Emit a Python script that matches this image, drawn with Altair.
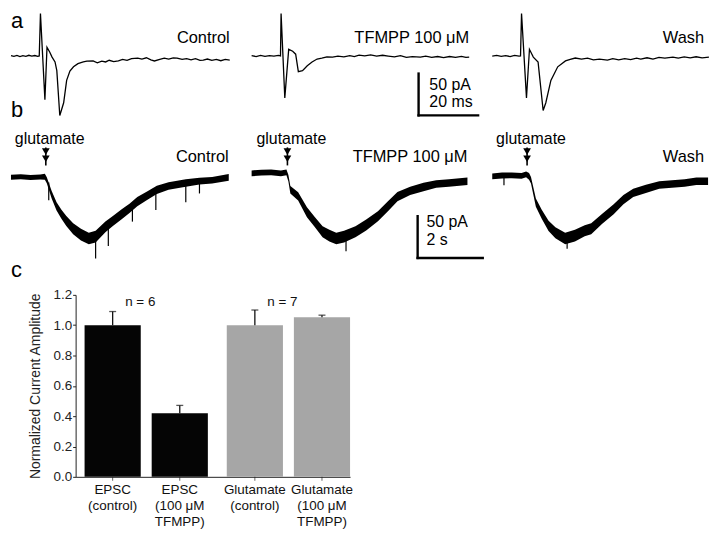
import altair as alt
import pandas as pd

FONT = "Liberation Sans"

# ---------------- Panel a: evoked EPSC traces (time ms, current pA) ----------------
a_ctrl_t = [0, 1, 2, 3, 4, 5, 6, 7, 8, 9, 9.5, 9.9, 11.4, 12.1, 13.0, 13.8, 14.8, 15.4, 16.4, 17.7,
            18.7, 19.8, 21.0, 22.5, 24.3, 25.5, 27.6, 29.0, 30.5, 31.8, 33.0, 34.5, 36.1, 37.5, 39.0,
            40.5, 42.6, 44.0, 45.5, 47.0, 48.2, 50.0, 51.5, 53.0, 54.5, 55.8, 57.5, 59.0, 60.5, 62.0,
            63.5, 64.6, 66.0, 67.5, 69.0, 70.5, 72.0, 73.5]
a_ctrl_i = [0.5, -0.3, 0.8, -0.5, 0.6, -0.2, 1.0, 0.0, 0.7, -0.3, 0.2, 51, -52.3, 10.5, 5, -1.2, -7,
            -17.4, -71, -55.8, -29, -18, -12.8, -9, -7, -6, -5.8, -8, -6, -7, -5, -6.5, -5.8, -4, -5,
            -3, -2.3, -3.5, -2, -4.5, -5.8, -4, -2.5, -3.5, -2, -2.3, -4, -3, -4.5, -3, -5, -4.7,
            -3.5, -5, -4, -5.5, -4, -4.7]

a_tfm_t = [0, 1.5, 3, 4.5, 6, 7.5, 9, 9.7, 9.9, 11.15, 12.46, 13.8, 14.8, 15.7, 17.1, 18.7, 20.3, 22,
           23.6, 25.3, 27.2, 29, 31, 33, 34.5, 36.1, 38, 40, 42, 44, 45.9, 48, 50, 52, 54, 56.7, 58.5,
           60.5, 62.5, 64.5, 66.5, 68.5, 70.5, 72, 73.1]
a_tfm_i = [0.5, -0.5, 0.8, -0.3, 0.6, 0, 0.8, 0.2, 51, -50, 8.1, 5.8, 2.3, -18.6, -17.4, -11.6, -7,
           -3.5, -2.5, -1, -1.2, 0, -1, 0.5, -0.5, 1.2, 0.3, 1.5, 0, 1, 0, -1, 0.5, -1.5, -0.5, -1.2,
           0, -1.5, -0.5, -1.8, -0.5, -1.5, -0.3, -1.5, -1.2]

a_wash_t = [0, 1.5, 3, 4.5, 6, 7.5, 9, 9.5, 9.84, 11.5, 12.5, 13.8, 15.4, 15.7, 17.1, 18, 19.7, 22,
            24.6, 26.2, 27.9, 30, 32, 34, 36, 38.7, 40.5, 42.5, 44.5, 46.5, 48.5, 49.9, 52, 54, 56,
            58, 60.7, 62.5, 64.5, 66.5, 68.5, 70.5, 72.8]
a_wash_i = [0, 0.8, -0.3, 0.6, -0.5, 0.8, 0, 0.3, 51, -50, 8.1, -1.2, -7, -17.4, -65, -55.8, -29,
            -12.8, -5.8, -4, -2.3, -3.5, -2.5, -4.5, -3.5, -4.7, -3, -4.5, -3, -4.2, -2.5, -3.5, -2,
            -3.5, -1.5, -2.5, -1.2, -2.5, -1, -2, -0.8, -2, -1.2]

# ---------------- Panel b: glutamate-evoked currents (time s, current pA) ----------------
b_ctrl_t = [0.00, 0.30, 0.60, 0.90, 1.04, 1.10, 1.25, 1.40, 1.55, 1.70, 1.91, 2.15, 2.39, 2.60, 2.90,
            3.13, 3.40, 3.64, 3.88, 4.18, 4.48, 4.84, 5.37, 5.79, 6.18, 6.69]
b_ctrl_c = [-1.2, -0.5, -1.5, -0.8, -0.5, -4.7, -22, -36, -45.4, -53.5, -62.8, -69.8, -74.4, -72.1,
            -60.5, -53.5, -45.4, -38.4, -30.2, -23.3, -16.3, -11.6, -8.1, -5.8, -4.7, -1.2]
b_ctrl_hw = [3, 3, 3, 3, 3.5, 3.5, 4.5, 5, 5.5, 6, 6.5, 7, 7, 7, 6.5, 6, 6, 5.5, 5.5, 5, 5, 4.5, 4.5,
             4, 4, 4]

b_tfm_t = [0.00, 0.30, 0.60, 0.90, 1.07, 1.13, 1.19, 1.43, 1.70, 1.94, 2.18, 2.39, 2.60, 2.84, 3.19,
           3.52, 3.88, 4.18, 4.48, 4.87, 5.28, 5.67, 6.06, 6.63]
b_tfm_c = [3.5, 4.5, 4.7, 3.5, 4.7, -2.3, -16, -24, -43, -54.7, -66.3, -70.9, -74.4, -72.1, -66.3,
           -58.2, -47.7, -36, -24.4, -17.4, -12.8, -9.3, -8.1, -5.8]
b_tfm_hw = [3.5, 3.5, 3.5, 3.5, 3.5, 4, 4.5, 5, 6, 6, 6.5, 7, 7, 7, 6.5, 6.5, 6, 6, 5.5, 5, 5, 4.5,
            4.5, 4.5]

b_wash_t = [0.00, 0.30, 0.60, 0.90, 1.04, 1.13, 1.19, 1.34, 1.52, 1.73, 1.94, 2.24, 2.54, 2.84, 3.04,
            3.37, 3.73, 4.03, 4.33, 4.72, 5.13, 5.52, 5.91, 6.27, 6.63]
b_wash_c = [0, 1, 1.2, 0.5, 2.3, 0, -4.7, -31.4, -45.4, -59.3, -67.5, -74.4, -70.9, -65.1, -62.8,
            -51.2, -39.5, -27.9, -19.8, -15.1, -10.5, -9.3, -8.1, -5.8, -5.8]
b_wash_hw = [3.5, 3.5, 3.5, 3.5, 3.5, 4, 4, 5, 5.5, 6, 6.5, 7, 7, 6.5, 6.5, 6, 6, 5.5, 5, 5, 4.5,
             4.5, 4.5, 4.5, 4.5]

# brief downward noise spikes (time s, start pA, tip pA)
sp_ctrl_t = [1.16, 2.60, 2.99, 3.73, 4.45, 5.37, 5.79]
sp_ctrl_from = [-8, -72, -60, -36, -17, -8, -6]
sp_ctrl_to = [-27.9, -97.7, -82.6, -53.5, -39.5, -30.2, -19.8]
sp_tfm_t = [2.9]
sp_tfm_from = [-70]
sp_tfm_to = [-89]
sp_wash_t = [0.36, 2.3]
sp_wash_from = [1, -73]
sp_wash_to = [-10, -86]

glu_time = [1.07, 1.10, 1.07]   # glutamate application time in each record (s)

# ---------------- Panel c: bar chart ----------------
bar_labels = ["EPSC\n(control)", "EPSC\n(100 \u03bcM\nTFMPP)", "Glutamate\n(control)",
              "Glutamate\n(100 \u03bcM\nTFMPP)"]
bar_group = ["EPSC", "EPSC", "Glutamate", "Glutamate"]
bar_cond = ["control", "TFMPP", "control", "TFMPP"]
bar_value = [1.0, 0.42, 1.0, 1.052]
bar_err_top = [1.09, 0.471, 1.10, 1.066]
n_group = ["EPSC", "Glutamate"]
n_text = ["n = 6", "n = 7"]
y_ticks = [0, 0.2, 0.4, 0.6, 0.8, 1.0, 1.2]

# ================= helpers =================
A_W, A_H = 220, 113
B_W, B_H = 220, 155
A_XDOM, A_YDOM = [0, 73.5], [-81.0, 53.4]
B_XDOM, B_YDOM = [0, 6.72], [-127.6, 56.9]


def XA(f):
    return alt.X(f, type="quantitative", scale=alt.Scale(domain=A_XDOM, nice=False, zero=False), axis=None)


def YA(f):
    return alt.Y(f, type="quantitative", scale=alt.Scale(domain=A_YDOM, nice=False, zero=False), axis=None)


def XB(f):
    return alt.X(f, type="quantitative", scale=alt.Scale(domain=B_XDOM, nice=False, zero=False), axis=None)


def YB(f):
    return alt.Y(f, type="quantitative", scale=alt.Scale(domain=B_YDOM, nice=False, zero=False), axis=None)


def texts(X, Y, ts, ys, ss, align="left", baseline="middle", size=16.5):
    df = pd.DataFrame({"t": ts, "i": ys, "s": ss})
    return alt.Chart(df).mark_text(align=align, baseline=baseline, fontSize=size, font=FONT,
                                   color="black").encode(x=X("t"), y=Y("i"), text="s:N")


def segs(X, Y, x1, x2, y1, y2, w=2.4):
    df = pd.DataFrame({"t": x1, "t2": x2, "i": y1, "i2": y2})
    return alt.Chart(df).mark_rule(color="black", strokeWidth=w, strokeCap="square").encode(
        x=X("t"), x2="t2:Q", y=Y("i"), y2="i2:Q")


def panel_a(t, i, label, label_t, extra):
    df = pd.DataFrame({"t": t, "i": i})
    line = alt.Chart(df).mark_line(color="black", strokeWidth=1.3, clip=False).encode(x=XA("t"), y=YA("i"))
    lab = texts(XA, YA, [label_t], [22.1], [label], align="right")
    return alt.layer(line, lab, *extra).properties(width=A_W, height=A_H)


def panel_b(t, c, hw, spt, spf, spto, tg, label, label_t, extra):
    df = pd.DataFrame({"t": t, "c": c, "hw": hw})
    df["lo"] = df["c"] - df["hw"]
    df["hi"] = df["c"] + df["hw"]
    band = alt.Chart(df).mark_area(color="black", clip=False, interpolate="linear").encode(
        x=XB("t"), y=YB("lo"), y2="hi:Q")
    spk = segs(XB, YB, spt, spt, spf, spto, w=1.2)
    stem = segs(XB, YB, [tg], [tg], [33.7], [14.0], w=1.6)
    tri = alt.Chart(pd.DataFrame({"t": [tg, tg], "i": [29.5, 21.0]})).mark_point(
        shape="triangle-down", filled=True, size=60, color="black", opacity=1).encode(x=XB("t"), y=YB("i"))
    glu = texts(XB, YB, [tg + 0.12], [44.2], ["glutamate"], align="center", size=16)
    lab = texts(XB, YB, [label_t], [23.5], [label], align="right")
    return alt.layer(band, spk, stem, tri, glu, lab, *extra).properties(width=B_W, height=B_H)


# ---------------- row a ----------------
a1 = panel_a(a_ctrl_t, a_ctrl_i, "Control", 73.5,
             [texts(XA, YA, [0, 0], [33.2, -72.7], ["a", "b"], baseline="alphabetic", size=22)])
a2 = panel_a(a_tfm_t, a_tfm_i, "TFMPP 100 \u03bcM", 73.1,
             [segs(XA, YA, [56.1, 56.1], [56.1, 76.1], [-20.9, -70.9], [-70.9, -70.9]),
              texts(XA, YA, [59.7, 59.7], [-34.5, -55.5], ["50 pA", "20 ms"], size=16)])
a3 = panel_a(a_wash_t, a_wash_i, "Wash", 71.2, [])
row_a = alt.hconcat(a1, a2, a3, spacing=22, bounds="flush")

# ---------------- row b ----------------
b1 = panel_b(b_ctrl_t, b_ctrl_c, b_ctrl_hw, sp_ctrl_t, sp_ctrl_from, sp_ctrl_to, glu_time[0],
             "Control", 6.69,
             [texts(XB, YB, [0.0], [-120.4], ["c"], baseline="alphabetic", size=22)])
b2 = panel_b(b_tfm_t, b_tfm_c, b_tfm_hw, sp_tfm_t, sp_tfm_from, sp_tfm_to, glu_time[1],
             "TFMPP 100 \u03bcM", 6.63,
             [segs(XB, YB, [5.10, 5.10], [5.10, 7.10], [-47.7, -97.7], [-97.7, -97.7]),
              texts(XB, YB, [5.37, 5.37], [-54.7, -76.8], ["50 pA", "2 s"], size=16)])
b3 = panel_b(b_wash_t, b_wash_c, b_wash_hw, sp_wash_t, sp_wash_from, sp_wash_to, glu_time[2],
             "Wash", 6.51, [])
row_b = alt.hconcat(b1, b2, b3, spacing=22, bounds="flush")

# ---------------- row c ----------------
bar_df = pd.DataFrame({"label": bar_labels, "group": bar_group, "cond": bar_cond,
                       "amp": bar_value, "err": bar_err_top})
n_df = pd.DataFrame({"group": n_group, "s": n_text})

C_H = 183
XSC = alt.Scale(domain=["EPSC", "Glutamate"], paddingInner=0.133, paddingOuter=0.0315, align=1)
XOFF = alt.XOffset("cond:N", scale=alt.Scale(domain=["control", "TFMPP"], paddingInner=0.163, paddingOuter=0))
YSC = alt.Scale(domain=[0, 1.2], nice=False, zero=True)
YAX = alt.Axis(values=y_ticks, format=".1f", tickSize=3, tickWidth=1, labelOverlap=False,
               tickColor="#222", domainColor="#222", domainWidth=1, labelPadding=1, labelFontSize=13.5,
               labelFont=FONT, labelColor="#222", title="Normalized Current Amplitude",
               titleFontSize=14, titleFont=FONT, titleFontWeight="normal", titleColor="#222",
               titlePadding=11, grid=False)
XAX = alt.Axis(title=None, labels=False, ticks=False, domainColor="#222", domainWidth=1, grid=False)
XE = alt.X("group:N", scale=XSC, axis=XAX)


def YC(f):
    return alt.Y(f, type="quantitative", scale=YSC, axis=YAX)


bars = alt.Chart(bar_df).mark_bar().encode(
    x=XE, xOffset=XOFF, y=YC("amp"),
    color=alt.Color("group:N", scale=alt.Scale(domain=["EPSC", "Glutamate"], range=["#050505", "#a6a6a6"]),
                    legend=None),
)
err = alt.Chart(bar_df).mark_rule(color="#111", strokeWidth=1.3).encode(
    x=XE, xOffset=XOFF, y=YC("amp"), y2="err:Q")
cap = alt.Chart(bar_df).mark_tick(color="#111", size=7, thickness=1.3).encode(
    x=XE, xOffset=XOFF, y=YC("err"))
xticks = alt.Chart(bar_df).transform_calculate(base="0").mark_tick(
    color="#222", orient="vertical", size=4, thickness=1, yOffset=2).encode(
    x=XE, xOffset=XOFF, y=YC("base"))
xlabels = alt.Chart(bar_df).transform_calculate(base="0").mark_text(
    baseline="top", align="center", dy=6, lineBreak="\n", lineHeight=16,
    fontSize=13.5, font=FONT, color="#111").encode(
    x=XE, xOffset=XOFF, y=YC("base"), text="label:N")
ntext = alt.Chart(n_df).transform_calculate(top="1.2").mark_text(
    baseline="middle", align="center", dx=-6, dy=7, fontSize=13.5, font=FONT, color="#111").encode(
    x=XE, y=YC("top"), text="s:N")

bar_chart = alt.layer(bars, err, cap, xticks, xlabels, ntext).properties(width=276, height=C_H)

spacer = alt.Chart(pd.DataFrame({"v": [0]})).mark_point(opacity=0).encode(
    x=alt.X("v:Q", axis=None), y=alt.Y("v:Q", axis=None)).properties(width=43, height=C_H)
row_c = alt.hconcat(spacer, bar_chart, spacing=22, bounds="flush")

chart = alt.vconcat(row_a, row_b, row_c, spacing=5).properties(
    padding=0, background="white"
).configure(font=FONT).configure_view(stroke=None)

chart.save("out.html", embed_options={"renderer": "svg", "actions": False})
